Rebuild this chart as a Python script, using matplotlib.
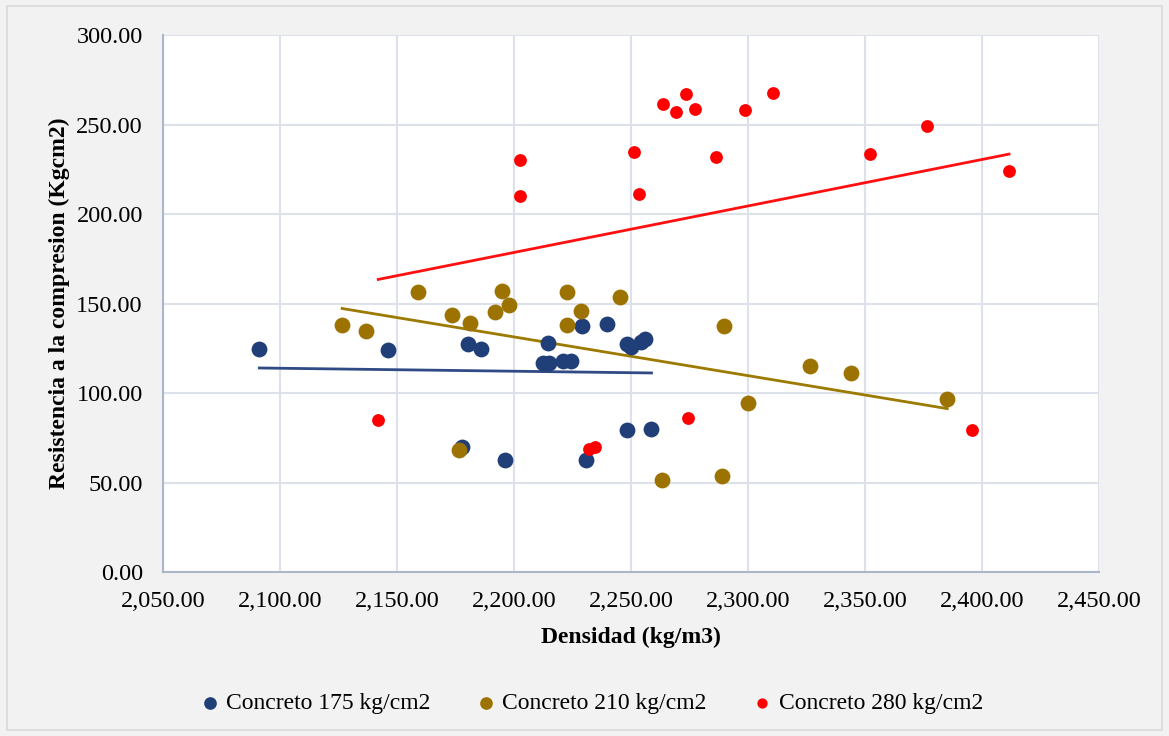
import numpy as np
import matplotlib
matplotlib.use("Agg")
import matplotlib.pyplot as plt
from matplotlib.patches import Rectangle
from matplotlib.ticker import FuncFormatter

# Datos
dens_175 = [2091.2, 2146.3, 2180.3, 2186.0, 2214.5, 2212.5, 2215.0, 2221.0, 2224.5, 2229.2,
            2239.6, 2248.5, 2250.0, 2254.2, 2255.9, 2177.9, 2196.0, 2230.7, 2248.5, 2258.8]
res_175 = [124.4, 124.0, 127.4, 124.6, 127.8, 116.6, 116.6, 117.9, 117.9, 137.4,
           138.5, 127.4, 125.5, 128.7, 130.2, 69.7, 62.6, 62.6, 79.3, 79.9]

dens_210 = [2126.6, 2136.8, 2159.0, 2173.6, 2181.2, 2191.8, 2194.7, 2198.1, 2222.5, 2222.5,
            2228.8, 2245.2, 2176.4, 2289.6, 2299.9, 2263.3, 2288.9, 2326.5, 2344.1, 2385.2]
res_210 = [138.2, 134.8, 156.4, 143.6, 139.3, 145.4, 157.0, 149.2, 156.4, 137.8,
           146.0, 153.6, 68.2, 137.6, 94.2, 51.4, 53.6, 115.1, 111.0, 96.5]

dens_280 = [2202.8, 2202.8, 2251.2, 2253.6, 2263.9, 2269.2, 2273.5, 2277.3, 2286.3, 2298.8,
            2310.7, 2352.1, 2376.6, 2411.6, 2395.6, 2274.2, 2142.0, 2232.1, 2234.7]
res_280 = [230.3, 210.2, 234.6, 211.3, 261.6, 257.2, 267.2, 258.8, 231.7, 257.9,
           267.8, 233.7, 249.0, 223.9, 79.1, 85.9, 85.1, 68.5, 70.0]

labels = ["Concreto 175 kg/cm2", "Concreto 210 kg/cm2", "Concreto 280 kg/cm2"]
colors = ["#203f78", "#9c7300", "#ff0000"]
line_colors = ["#2f4a85", "#9c7a00", "#ff1010"]
sizes = [130, 130, 85]

plt.rcParams['font.family'] = ['Liberation Serif', 'DejaVu Serif']

fig = plt.figure(figsize=(11.69, 7.36), dpi=100, facecolor="#f2f2f2")
# marco exterior
fig.patches.append(Rectangle((0.006, 0.008), 0.988, 0.984, transform=fig.transFigure,
                             fill=False, edgecolor="#d9d9d9", linewidth=1.2))

ax = fig.add_axes([0.1394, 0.2228, 0.8006, 0.7296])
ax.set_facecolor("white")

series = [(dens_175, res_175), (dens_210, res_210), (dens_280, res_280)]
for (x, y), lab, c, lc, s in zip(series, labels, colors, line_colors, sizes):
    x = np.array(x)
    y = np.array(y)
    ax.scatter(x, y, s=s, color=c, label=lab, zorder=3, linewidths=0)
    # linea de tendencia
    m, b = np.polyfit(x, y, 1)
    xx = np.array([x.min(), x.max()])
    ax.plot(xx, m * xx + b, color=lc, linewidth=2, zorder=2)

ax.set_xlim(2050, 2450)
ax.set_ylim(0, 300)
ax.set_xticks(np.arange(2050, 2451, 50))
ax.set_yticks(np.arange(0, 301, 50))
ax.xaxis.set_major_formatter(FuncFormatter(lambda v, p: f"{v:,.2f}"))
ax.yaxis.set_major_formatter(FuncFormatter(lambda v, p: f"{v:.2f}"))
ax.grid(True, color="#dde2ea", linewidth=1.5, zorder=0)
ax.set_axisbelow(True)
for sp in ["top", "right"]:
    ax.spines[sp].set_visible(False)
ax.spines["left"].set_color("#aab6c9")
ax.spines["left"].set_linewidth(1.5)
ax.spines["bottom"].set_color("#aab6c9")
ax.spines["bottom"].set_linewidth(1.5)
ax.tick_params(axis="y", length=0, labelsize=17.5, pad=14.5)
ax.tick_params(axis="x", length=0, labelsize=17.5, pad=14)

ax.set_xlabel("Densidad (kg/m3)", fontsize=17, fontweight="bold", labelpad=10)
ax.set_ylabel("Resistencia a la compresion (Kgcm2)", fontsize=17, fontweight="bold")
ax.yaxis.set_label_coords(-0.099, 0.5)

fig.legend(loc="center", bbox_to_anchor=(0.5, 0.044), ncol=3, frameon=False,
           fontsize=17, handletextpad=-0.3, columnspacing=1.35, markerscale=0.8)

fig.savefig("out.png", dpi=100, facecolor=fig.get_facecolor())
